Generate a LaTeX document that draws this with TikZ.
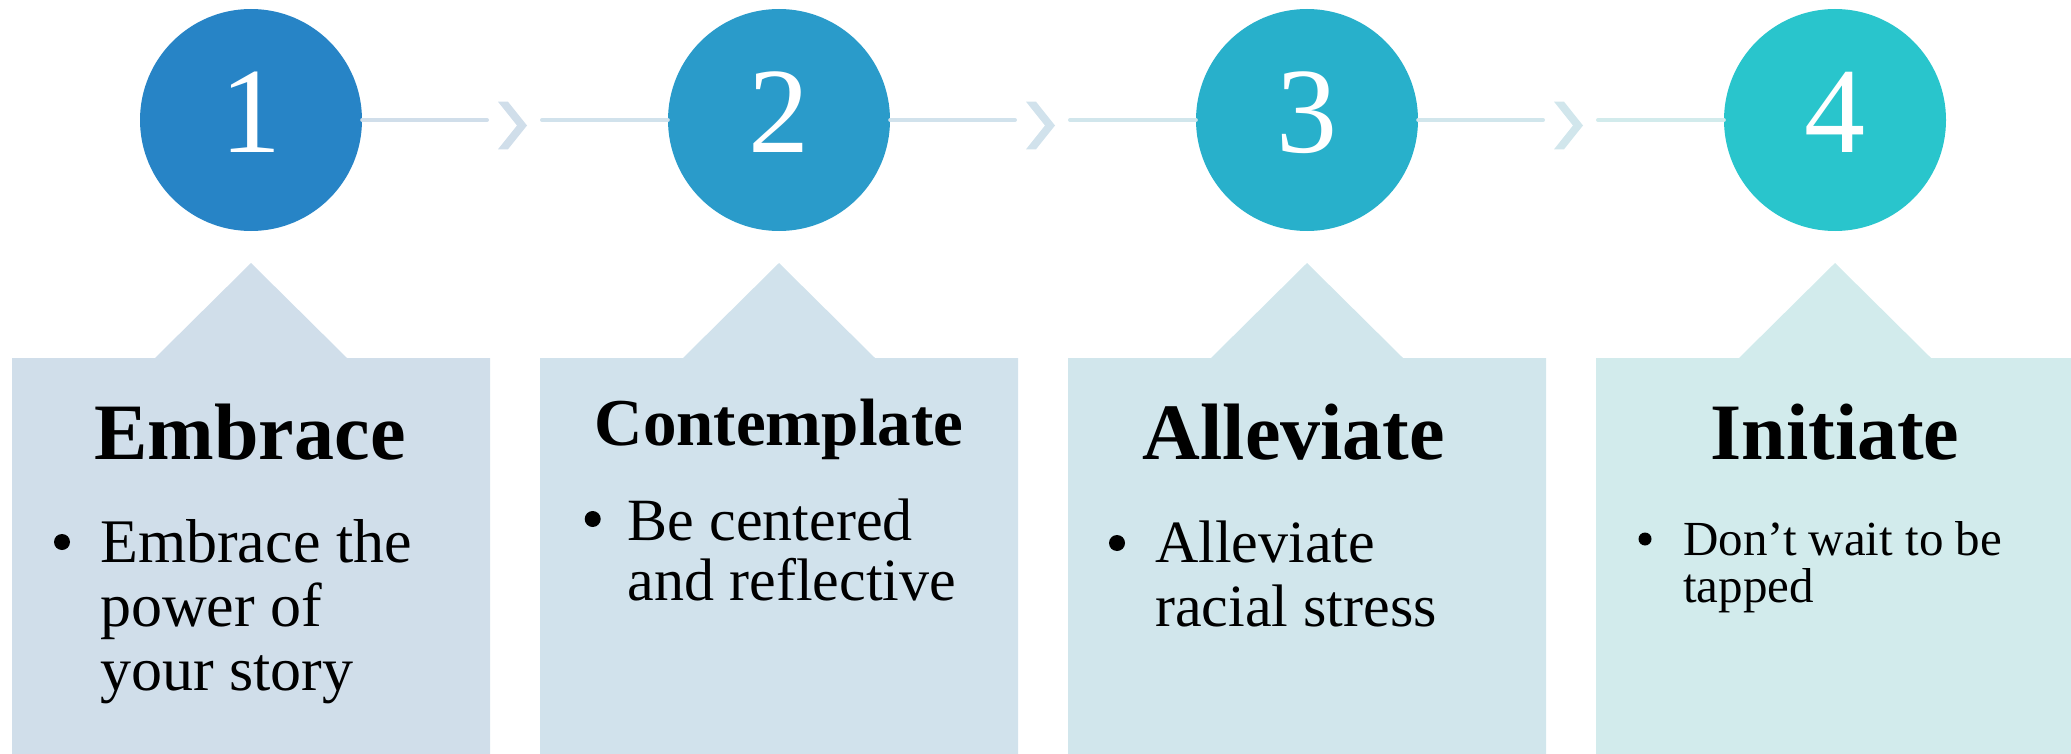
\documentclass[tikz,border=0pt]{standalone}
\usepackage{fontspec}
\setmainfont{Liberation Serif}
\begin{document}
\begin{tikzpicture}[x=1pt,y=-1pt,
  disc/.style={circle, inner sep=0pt, minimum size=222pt},
  numeral/.style={anchor=base, inner sep=0pt, text=white, font=\fontsize{122}{122}\selectfont},
  heading/.style={anchor=base, inner sep=0pt, font=\bfseries\fontsize{80}{80}\selectfont},
  itemtext/.style={anchor=base west, inner sep=0pt, align=left},
  dot/.style={circle, fill=black, inner sep=0pt, minimum size=16pt},
  link/.style={line width=4pt, line cap=round}
]
\definecolor{disc1}{HTML}{2784C6}
\definecolor{disc2}{HTML}{2A9BCA}
\definecolor{disc3}{HTML}{28B0CB}
\definecolor{disc4}{HTML}{29C5CC}
\definecolor{card1}{HTML}{D0DEEA}
\definecolor{card2}{HTML}{D1E2EC}
\definecolor{card3}{HTML}{D1E6EC}
\definecolor{card4}{HTML}{D2EBEC}

\useasboundingbox (0,0) rectangle (2071,754);

% cards with a pointer towards each step disc
\foreach \i/\cx in {1/251,2/779,3/1307,4/1835} {
  \pgfmathsetmacro{\rx}{min(\cx+239,2071)}
  \fill[card\i] (\cx-239,754) -- (\cx-239,358) -- (\cx-96,358) -- (\cx,263)
     -- (\cx+96,358) -- (\rx,358) -- (\rx,754) -- cycle;
  \node[disc, fill=disc\i] (d\i) at (\cx,120) {};
  \node[numeral] (k\i) at (\cx,153) {\i};
}

% connectors with a chevron between consecutive steps
\foreach \i/\j/\cx in {1/2/251,2/3/779,3/4/1307} {
  \coordinate (a\i) at (\cx+236,120);
  \coordinate (b\i) at (\cx+291,120);
  \draw[link, draw=card\i] (d\i.east) -- (a\i);
  \draw[link, draw=card\j] (b\i) -- (d\j.west);
  \pgfmathsetmacro{\xo}{\cx+247}
  \fill[card\i] (\xo,101.7) -- (\xo+10,101.7) -- (\xo+29,125.5)
     -- (\xo+10,149.3) -- (\xo,149.3) -- (\xo+19,125.5) -- cycle;
}

% step 1
\node[heading] (h1) at (250,459) {Embrace};
\node[dot] (p1) at (62,542) {};
\node[itemtext, font=\fontsize{62}{64}\selectfont] (t1) at (100,562.7)
  {\begin{tabular}[t]{@{}l@{}}Embrace the\\power of\\your story\end{tabular}};

% step 2
\node[heading, font=\bfseries\fontsize{67}{67}\selectfont] (h2) at (779,445) {Contemplate};
\node[dot] (p2) at (592.7,519) {};
\node[itemtext, font=\fontsize{60}{60}\selectfont] (t2) at (627.7,540)
  {\begin{tabular}[t]{@{}l@{}}Be centered\\and reflective\end{tabular}};

% step 3
\node[heading] (h3) at (1294,459) {Alleviate};
\node[dot] (p3) at (1117,543) {};
\node[itemtext, font=\fontsize{60}{64}\selectfont] (t3) at (1155,562.7)
  {\begin{tabular}[t]{@{}l@{}}Alleviate\\racial stress\end{tabular}};

% step 4
\node[heading] (h4) at (1835,459) {Initiate};
\node[dot, minimum size=13pt] (p4) at (1645,539) {};
\node[itemtext, font=\fontsize{49}{45}\selectfont] (t4) at (1683,555)
  {\begin{tabular}[t]{@{}l@{}}Don’t wait to be\\tapped\end{tabular}};
\end{tikzpicture}
\end{document}
